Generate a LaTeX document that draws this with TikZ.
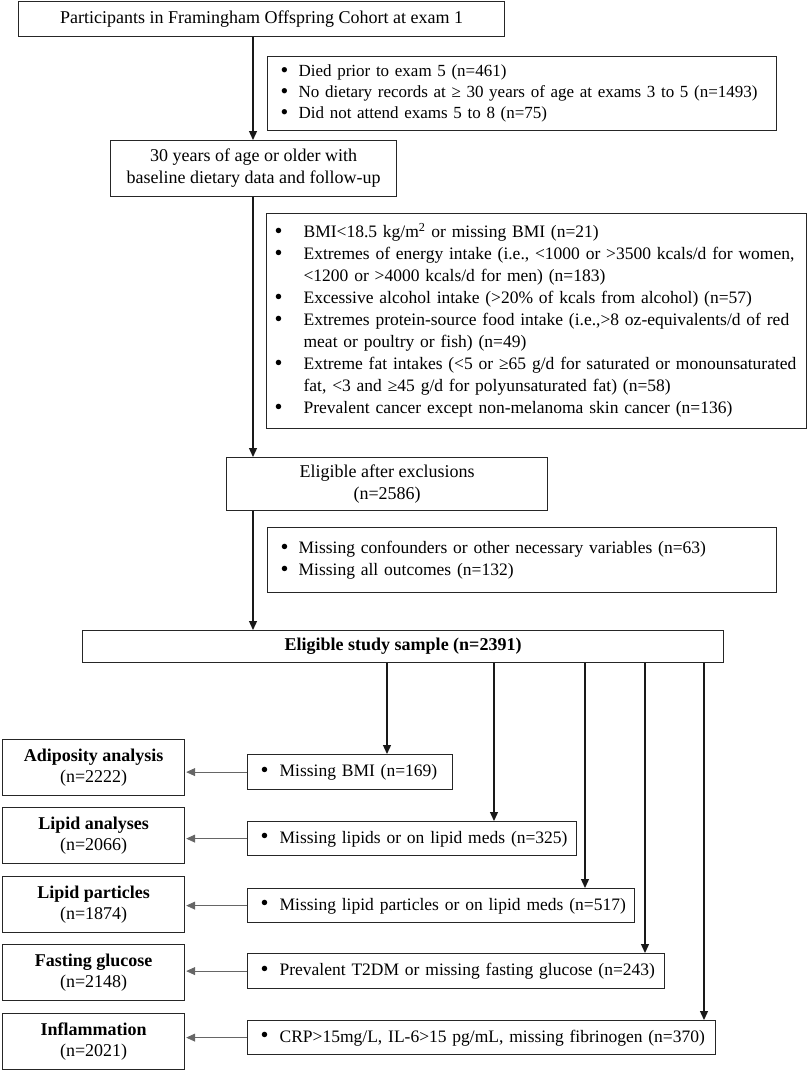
\documentclass[tikz,border=0pt]{standalone}
\usepackage{fontspec}
\setmainfont{Liberation Serif}
\usepackage{array}
\usepackage{graphicx}
\usetikzlibrary{arrows.meta,calc}
\newcommand{\bl}[2]{\begin{tabular}{@{}p{#1}@{}l@{}}#2\end{tabular}}
\newcommand{\bul}{\smash{\raisebox{-0.1ex}{\scalebox{1.3}{\textbullet}}}}
\tikzset{
  box/.style={draw=black!85, line width=1.2pt, anchor=north west, inner sep=0pt, align=center,
    font=\fontsize{18}{22}\selectfont},
  lbox/.style={box, align=left, font=\fontsize{17.5}{22}\selectfont},
  flow/.style={draw=black!90, line width=1.3pt, -{Triangle[length=9pt,width=8pt]}},
  side/.style={draw=black!60, line width=0.8pt, -{Triangle[length=9pt,width=8pt]}, shorten >=1pt}
}
\begin{document}
\begin{tikzpicture}[x=1pt,y=-1pt]
\useasboundingbox (0,0) rectangle (809,1071);
\coordinate (spine) at (253,0);

\node[box, minimum width=486pt, minimum height=35pt] (top) at (18,1)
  {Participants in Framingham Offspring Cohort at exam 1};

\node[lbox, inner xsep=13pt, text width=483pt, minimum height=74pt, font=\fontsize{17}{21}\selectfont] (ex1) at (267,56)
  {\bl{18pt}{\bul & Died prior to exam 5 (n=461)\\
  \bul & No dietary records at ≥ 30 years of age at exams 3 to 5 (n=1493)\\
  \bul & Did not attend exams 5 to 8 (n=75)}};

\node[box, minimum width=286pt, minimum height=56pt] (b2) at (110,140)
  {30 years of age or older with\\baseline dietary data and follow-up};

\node[lbox, inner xsep=8pt, text width=524pt, minimum height=215pt] (ex2) at (266,213)
  {\bl{29pt}{\bul & BMI<18.5 kg/m\textsuperscript{2} or missing BMI (n=21)\\
  \bul & Extremes of energy intake (i.e., <1000 or >3500 kcals/d for women,\\
   & <1200 or >4000 kcals/d for men) (n=183)\\
  \bul & Excessive alcohol intake (>20\% of kcals from alcohol) (n=57)\\
  \bul & Extremes protein-source food intake (i.e.,>8 oz-equivalents/d of red\\
   & meat or poultry or fish) (n=49)\\
  \bul & Extreme fat intakes (<5 or ≥65 g/d for saturated or monounsaturated\\
   & fat, <3 and ≥45 g/d for polyunsaturated fat) (n=58)\\
  \bul & Prevalent cancer except non-melanoma skin cancer (n=136)}};

\node[box, minimum width=321pt, minimum height=53pt] (b3) at (226,457)
  {Eligible after exclusions\\(n=2586)};

\node[lbox, inner xsep=13pt, text width=483pt, minimum height=65pt] (ex3) at (267,527)
  {\bl{18pt}{\bul & Missing confounders or other necessary variables (n=63)\\
  \bul & Missing all outcomes (n=132)}};

\node[box, minimum width=641pt, minimum height=32pt] (b4) at (82,630)
  {\textbf{Eligible study sample (n=2391)}};

% bottom exclusion boxes
\node[lbox, inner xsep=13pt, text width=179pt, minimum height=35pt] (e1) at (247,754)
  {\bl{19pt}{\bul & Missing BMI (n=169)}};
\node[lbox, inner xsep=13pt, text width=303pt, minimum height=34pt] (e2) at (247,821)
  {\bl{19pt}{\bul & Missing lipids or on lipid meds (n=325)}};
\node[lbox, inner xsep=13pt, text width=361pt, minimum height=34pt] (e3) at (247,888)
  {\bl{19pt}{\bul & Missing lipid particles or on lipid meds (n=517)}};
\node[lbox, inner xsep=13pt, text width=391pt, minimum height=35pt] (e4) at (247,953)
  {\bl{19pt}{\bul & Prevalent T2DM or missing fasting glucose (n=243)}};
\node[lbox, inner xsep=13pt, text width=442pt, minimum height=34pt] (e5) at (247,1020)
  {\bl{19pt}{\bul & CRP>15mg/L, IL-6>15 pg/mL, missing fibrinogen (n=370)}};

% result boxes
\tikzset{rbox/.style={box, minimum width=182pt, minimum height=56pt, font=\fontsize{18}{21}\selectfont}}
\node[rbox] (r1) at (2,739) {\textbf{Adiposity analysis}\\(n=2222)};
\node[rbox] (r2) at (2,807) {\textbf{Lipid analyses}\\(n=2066)};
\node[rbox] (r3) at (2,876) {\textbf{Lipid particles}\\(n=1874)};
\node[rbox] (r4) at (2,944) {\textbf{Fasting glucose}\\(n=2148)};
\node[rbox] (r5) at (2,1013) {\textbf{Inflammation}\\(n=2021)};

% main spine
\draw[flow] (top.south -| spine) -- (b2.north -| spine);
\draw[flow] (b2.south -| spine) -- (b3.north -| spine);
\draw[flow] (b3.south -| spine) -- (b4.north -| spine);

% branches
\coordinate (c1) at (387,0);
\coordinate (c2) at (494,0);
\coordinate (c3) at (585,0);
\coordinate (c4) at (645,0);
\coordinate (c5) at (704,0);
\draw[flow] (b4.south -| c1) -- (e1.north -| c1);
\draw[flow] (b4.south -| c2) -- (e2.north -| c2);
\draw[flow] (b4.south -| c3) -- (e3.north -| c3);
\draw[flow] (b4.south -| c4) -- (e4.north -| c4);
\draw[flow] (b4.south -| c5) -- (e5.north -| c5);

\draw[side] (e1.west) -- (r1.east |- e1.west);
\draw[side] (e2.west) -- (r2.east |- e2.west);
\draw[side] (e3.west) -- (r3.east |- e3.west);
\draw[side] (e4.west) -- (r4.east |- e4.west);
\draw[side] (e5.west) -- (r5.east |- e5.west);
\end{tikzpicture}
\end{document}
